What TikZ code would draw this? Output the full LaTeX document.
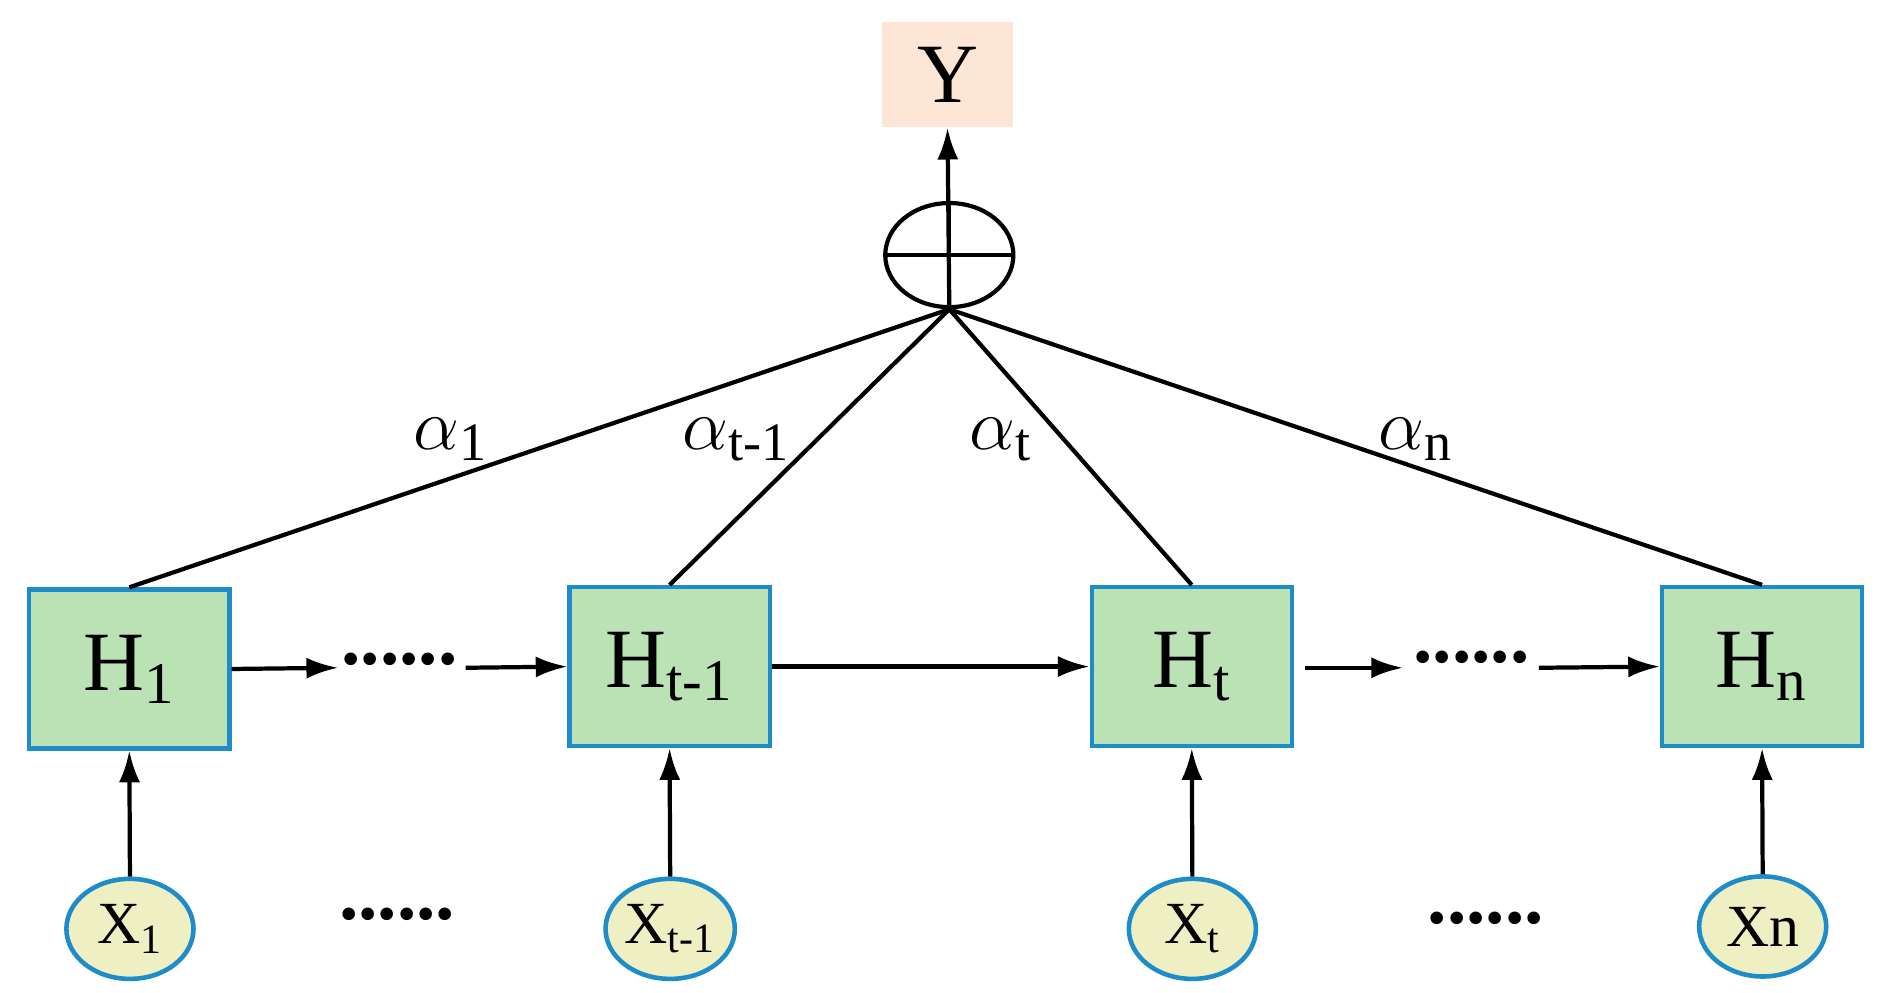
\documentclass[tikz,border=0pt]{standalone}
\usepackage{fontspec}
\setmainfont{Liberation Serif}
\usetikzlibrary{shapes.geometric,arrows.meta}
\definecolor{hfill}{RGB}{187,226,180}
\definecolor{hborder}{RGB}{30,140,200}
\definecolor{xfill}{RGB}{238,240,196}
\definecolor{yfill}{RGB}{254,230,215}
\newcommand{\sbs}[1]{\textsubscript{#1}}
\begin{document}
\begin{tikzpicture}[x=0.01203cm,y=-0.01203cm,
  xel/.style={ellipse,draw=hborder,fill=xfill,line width=1.3pt,minimum width=1.27cm,minimum height=1.0cm,inner sep=0,font=\fontsize{17}{20}\selectfont},
  hb/.style={draw=hborder,fill=hfill,line width=1.2pt,minimum width=2.0cm,minimum height=1.59cm,inner sep=0,font=\fontsize{24}{28}\selectfont},
  arr/.style={-{Latex[length=9pt,width=6pt]},line width=1.2pt},
  ln/.style={line width=1.2pt},
  dots/.style={font=\fontsize{22}{24}\selectfont\bfseries,inner sep=0},
  al/.style={font=\fontsize{22}{26}\selectfont,inner sep=0}]
\useasboundingbox (0,0) rectangle (1560,825);
\node[fill=yfill,minimum width=1.31cm,minimum height=1.05cm,inner sep=0,font=\fontsize{24}{28}\selectfont] (Y) at (787.5,62) {Y};
\node[ellipse,draw,line width=1.2pt,minimum width=1.28cm,minimum height=1.04cm,inner sep=0] (S) at (789,212) {};
\draw[ln] (S.west) -- (S.east);
\draw[ln] (S.north) -- (S.south);
\coordinate (B) at (S.south);
\node[hb] (H1) at (107.5,556) {H\sbs{1}};
\node[hb] (H2) at (556.5,554) {H\sbs{t-1}};
\node[hb] (H3) at (990.5,554) {H\sbs{t}};
\node[hb] (H4) at (1464.5,554) {H\sbs{n}};
\draw[ln] (H1.north) -- (B);
\draw[ln] (H2.north) -- (B);
\draw[ln] (H3.north) -- (B);
\draw[ln] (H4.north) -- (B);
\draw[arr] (B) -- (Y.south);
\node[al] (a1) at (375,365) {$\alpha$\sbs{1}};
\node[al] (a2) at (612,365) {$\alpha$\sbs{t-1}};
\node[al] (a3) at (832,365) {$\alpha$\sbs{t}};
\node[al] (a4) at (1177,365) {$\alpha$\sbs{n}};
\node[dots] (d1) at (332,548) {......};
\node[dots] (d2) at (1223,546) {......};
\coordinate (e1) at (281,555);
\coordinate (s1) at (387,555);
\coordinate (e2) at (1166,555);
\coordinate (s2) at (1279,555);
\coordinate (b2) at (1085,555);
\draw[arr] (H1.east) -- (e1);
\draw[arr] (s1) -- (H2.west);
\draw[arr] (H2.east) -- (H3.west);
\draw[arr] (b2) -- (e2);
\draw[arr] (s2) -- (H4.west);
\node[xel] (X1) at (108,772) {X\sbs{1}};
\node[xel] (X2) at (557,772) {X\sbs{t-1}};
\node[xel] (X3) at (991,772) {X\sbs{t}};
\node[xel] (X4) at (1465,770) {Xn};
\draw[arr] (X1.north) -- (H1.south);
\draw[arr] (X2.north) -- (H2.south);
\draw[arr] (X3.north) -- (H3.south);
\draw[arr] (X4.north) -- (H4.south);
\node[dots] (d3) at (330,760) {......};
\node[dots] (d4) at (1235,763) {......};
\end{tikzpicture}
\end{document}
